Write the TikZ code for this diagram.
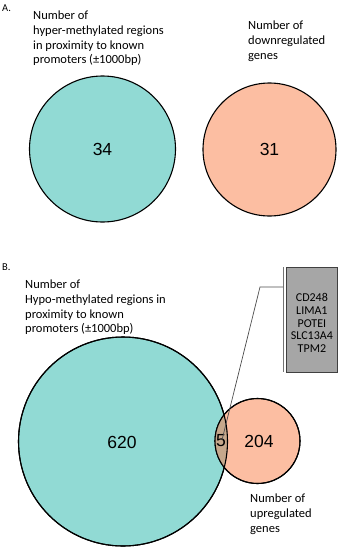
\documentclass[tikz,border=0pt]{standalone}
\usepackage{fontspec}
\setmainfont{Carlito}
\newfontfamily\numfont{Liberation Sans}
\usetikzlibrary{positioning}

\definecolor{hypocol}{RGB}{145,218,212}
\definecolor{genecol}{RGB}{252,190,162}
\definecolor{lenscol}{RGB}{198,168,140}
\definecolor{boxcol}{RGB}{166,166,166}

\begin{document}
\begin{tikzpicture}[
  x=1pt, y=-1pt,
  venn/.style={circle, draw=black, line width=1.1pt, inner sep=0pt},
  count/.style={font=\numfont\fontsize{17.5}{19}\selectfont},
  caption/.style={anchor=north west, align=left, inner sep=0pt, font=\fontsize{12.5}{14.8}\selectfont},
  panel/.style={anchor=base west, inner sep=0pt, font=\fontsize{10.5}{12}\selectfont},
  callout/.style={draw=black!70, line width=0.7pt}
]
\useasboundingbox (0,0) rectangle (340,550);

% panel A
\node[panel] (labA) at (2,11.7) {A.};
\node[venn, fill=hypocol, minimum size=146pt] (hyperA) at (102.5,149) {};
\node[venn, fill=genecol, minimum size=133pt] (downA) at (269.5,149.5) {};
\node[count] (nhyper) at (hyperA.center) {34};
\node[count] (ndown) at (downA.center) {31};
\node[caption] (capHyper) at (33,10.6) {Number of\\hyper-methylated regions\\in proximity to known\\promoters (±1000bp)};
\node[caption] (capDown) at (248,20.6) {Number of\\downregulated\\genes};

% panel B
\node[panel] (labB) at (2,270.7) {B.};
\node[venn, fill=hypocol, minimum size=209pt] (hypoB) at (123,441.5) {};
\node[venn, fill=genecol, minimum size=85pt] (upB) at (257.5,441) {};
\begin{scope}
  \clip (123,441.5) circle (104.5);
  \fill[lenscol] (257.5,441) circle (42.5);
\end{scope}
\draw[line width=1.1pt] (123,441.5) circle (104.5);
\draw[line width=1.1pt] (257.5,441) circle (42.5);
\node[count] (nhypo) at (122,442) {620};
\node[count] (nup) at (259,441) {204};
\node[count] (nboth) at (221,441) {5};
\node[caption] (capHypo) at (25,279.6) {Number of\\Hypo-methylated regions in\\proximity to known\\promoters (±1000bp)};
\node[caption] (capUp) at (250,494) {Number of\\upregulated\\genes};

% gene list callout
\node[draw=black!75, fill=boxcol, line width=0.7pt, minimum width=51pt, minimum height=105pt, inner sep=0pt] (genebox) at (311.5,319.5) {};
\node[align=center, inner sep=0pt, font=\fontsize{12}{12.8}\selectfont] (genes) at (311.9,323) {CD248\\LIMA1\\POTEI\\SLC13A4\\TPM2};
\coordinate (barTop) at (283,267);
\coordinate (barBot) at (283,372);
\coordinate (bend) at (260,287);
\coordinate (lens) at (222,440);
\draw[draw=black!55, line width=0.8pt] (barTop) -- (barBot);
\draw[callout] (lens) -- (bend) -- (bend -| barTop);
\end{tikzpicture}
\end{document}
